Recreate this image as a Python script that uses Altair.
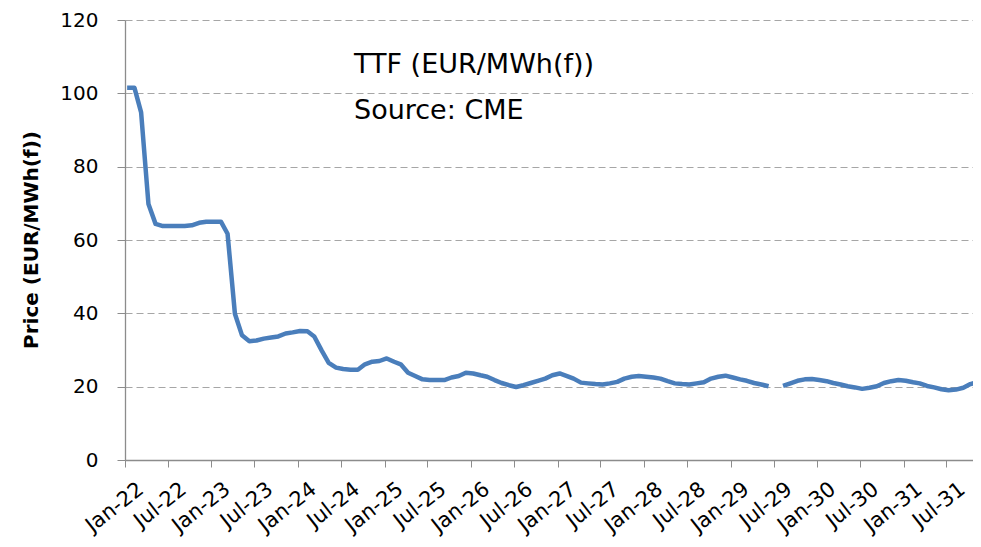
import altair as alt
import pandas as pd

# ---- data (monthly, Jan-22 .. Dec-31; Jul-29 missing) ----
months = pd.date_range("2022-01-01", "2031-12-01", freq="MS")
prices = [
    101.5, 101.5, 94.8, 69.8, 64.4, 63.8, 63.8, 63.8, 63.8, 64.0, 64.7, 65.0,   # 2022
    65.0, 65.0, 61.7, 39.9, 34.0, 32.4, 32.6, 33.1, 33.4, 33.7, 34.5, 34.8,     # 2023
    35.2, 35.1, 33.7, 29.9, 26.5, 25.2, 24.8, 24.6, 24.6, 26.1, 26.8, 27.0,     # 2024
    27.7, 26.8, 26.1, 23.8, 22.9, 22.0, 21.8, 21.8, 21.8, 22.5, 22.9, 23.8,     # 2025
    23.6, 23.1, 22.7, 21.8, 21.0, 20.4, 19.9, 20.4, 21.0, 21.6, 22.2, 23.1,     # 2026
    23.6, 22.9, 22.2, 21.1, 20.9, 20.7, 20.6, 20.9, 21.3, 22.2, 22.7, 22.9,     # 2027
    22.7, 22.5, 22.2, 21.5, 20.9, 20.7, 20.6, 20.9, 21.2, 22.2, 22.7, 23.0,     # 2028
    22.5, 22.0, 21.6, 21.0, 20.6, 20.1, None, 20.2, 20.9, 21.6, 22.0, 22.1,     # 2029
    21.8, 21.5, 21.0, 20.6, 20.1, 19.8, 19.4, 19.7, 20.1, 21.0, 21.5, 21.8,     # 2030
    21.6, 21.2, 20.9, 20.2, 19.8, 19.3, 19.0, 19.2, 19.7, 20.7, 21.3, 21.4,     # 2031
]
y_ticks = [0, 20, 40, 60, 80, 100, 120]
x_tick_dates = pd.date_range("2022-01-01", "2031-07-01", freq="6MS")
annotation_lines = ["TTF (EUR/MWh(f))", "Source: CME"]
y_title = "Price (EUR/MWh(f))"

# build table; split into segments at the missing month so the line breaks there
rows = []
seg = 0
for d, p in zip(months, prices):
    if p is None:
        seg += 1
        continue
    rows.append({"date": (d + pd.Timedelta(days=9)).strftime("%Y-%m-%d"), "price": p, "seg": seg})
df = pd.DataFrame(rows)

FONT = "DejaVu Sans"
LINE_COLOR = "#4a7ebb"
GRID_COLOR = "#a6a6a6"
AXIS_COLOR = "#8c8c8c"

x_enc = alt.X(
    "date:T",
    scale=alt.Scale(
        type="utc",
        domain=[alt.DateTime(year=2022, month=1, date=1, utc=True),
                alt.DateTime(year=2031, month=10, date=21, utc=True)],
        nice=False,
    ),
    axis=alt.Axis(
        title=None,
        values=[alt.DateTime(year=d.year, month=d.month, date=1, utc=True) for d in x_tick_dates],
        format="%b-%y",
        labelAngle=322,
        labelAlign="right",
        labelBaseline="top",
        labelPadding=11,
        labelOffset=9,
        labelFont=FONT,
        labelFontSize=21,
        labelColor="#000000",
        labelOverlap=False,
        labelFlush=False,
        grid=False,
        tickSize=7,
        tickColor=AXIS_COLOR,
        domainColor=AXIS_COLOR,
        domainWidth=1.3,
    ),
)

y_enc = alt.Y(
    "price:Q",
    scale=alt.Scale(domain=[0, 120], nice=False, zero=True),
    axis=alt.Axis(
        title=y_title,
        titleFont=FONT,
        titleFontSize=20,
        titleFontWeight="bold",
        titleColor="#000000",
        titleAngle=270,
        titleX=-94,
        titleY=219.5,
        titleAlign="center",
        titleBaseline="middle",
        values=y_ticks,
        labelFont=FONT,
        labelFontSize=20,
        labelColor="#000000",
        labelPadding=19,
        tickSize=8,
        tickColor=AXIS_COLOR,
        domainColor=AXIS_COLOR,
        domainWidth=1.3,
        grid=True,
        gridColor=GRID_COLOR,
        gridDash=[7, 4],
        gridWidth=1.2,
    ),
)

line = alt.Chart(df).mark_line(
    color=LINE_COLOR, strokeWidth=4.5, strokeJoin="round", strokeCap="butt", clip=True
).encode(x=x_enc, y=y_enc, detail="seg:N")

ann_df = pd.DataFrame({"txt": annotation_lines, "row": [0, 1]})
ann1 = alt.Chart(ann_df[ann_df.row == 0]).mark_text(
    align="left", baseline="alphabetic", font=FONT, fontSize=27, color="#000000"
).encode(text="txt:N", x=alt.value(229), y=alt.value(52.5))
ann2 = alt.Chart(ann_df[ann_df.row == 1]).mark_text(
    align="left", baseline="alphabetic", font=FONT, fontSize=27, color="#000000"
).encode(text="txt:N", x=alt.value(229), y=alt.value(98.5))

chart = alt.layer(line, ann1, ann2).properties(
    width=848,
    height=440,
    padding={"left": 117, "top": 12, "right": 0, "bottom": 79},
    autosize=alt.AutoSizeParams(type="none"),
    background="white",
).configure_view(stroke=None)

chart.save("out.html", embed_options={"renderer": "svg", "actions": False})
